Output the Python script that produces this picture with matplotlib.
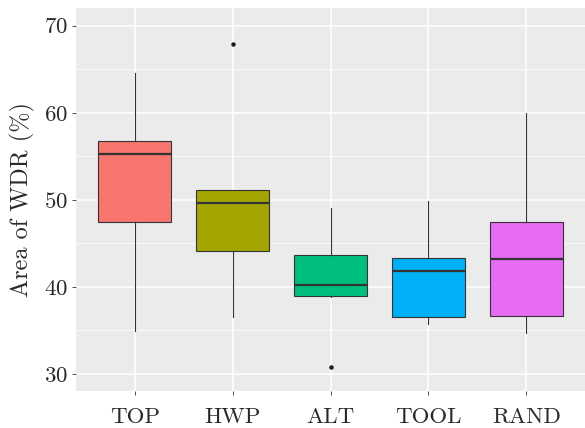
import matplotlib
matplotlib.use("Agg")
import matplotlib.pyplot as plt
from matplotlib.ticker import MultipleLocator

plt.rcParams['font.family'] = 'serif'
plt.rcParams['font.serif'] = ['cmr10']
plt.rcParams['mathtext.fontset'] = 'cm'
plt.rcParams['axes.formatter.use_mathtext'] = True

categories = ["TOP", "HWP", "ALT", "TOOL", "RAND"]
whislo = [34.9, 36.6, 38.9, 35.7, 34.7]
q1 = [47.5, 44.1, 39.0, 36.6, 36.7]
med = [55.3, 49.6, 40.2, 41.8, 43.2]
q3 = [56.8, 51.1, 43.7, 43.3, 47.4]
whishi = [64.6, 51.1, 49.1, 49.9, 60.0]
outliers = [[], [67.9], [30.8], [], []]
colors = ["#F8766D", "#A3A500", "#00BF7D", "#00B0F6", "#E76BF3"]

stats = []
for i, c in enumerate(categories):
    stats.append(dict(label=c, whislo=whislo[i], q1=q1[i], med=med[i],
                      q3=q3[i], whishi=whishi[i], fliers=outliers[i]))

fig = plt.figure(figsize=(5.85, 4.28), dpi=100)
ax = fig.add_axes([76/585, 37/428, 509/585, 383/428])
ax.set_facecolor("#EBEBEB")
for s in ax.spines.values():
    s.set_visible(False)

ax.yaxis.set_major_locator(MultipleLocator(10))
ax.yaxis.set_minor_locator(MultipleLocator(5))
ax.grid(which='major', color='white', linewidth=1.1)
ax.grid(which='minor', axis='y', color='white', linewidth=0.55)
ax.set_axisbelow(True)

bp = ax.bxp(stats, positions=range(1, 6), widths=0.75, patch_artist=True,
            showcaps=False,
            boxprops=dict(edgecolor='#333333', linewidth=0.8),
            whiskerprops=dict(color='#333333', linewidth=0.8),
            medianprops=dict(color='#333333', linewidth=1.6),
            flierprops=dict(marker='o', markersize=2.2, markerfacecolor='#1a1a1a',
                            markeredgecolor='#1a1a1a', linestyle='none'))
for patch, col in zip(bp['boxes'], colors):
    patch.set_facecolor(col)

ax.set_xlim(0.4, 5.6)
ax.set_ylim(28.05, 72.03)
ax.set_xticks(range(1, 6))
ax.set_xticklabels(categories)
ax.tick_params(axis='both', which='major', color='#333333', length=3, width=0.6,
               labelsize=16.5, labelcolor='#2a2a2a', pad=3)
ax.tick_params(axis='x', pad=9)
ax.tick_params(which='minor', length=0)
ax.set_ylabel("Area of WDR (%)", fontsize=17.5, color='#2a2a2a', labelpad=6)

fig.savefig("out.png", dpi=100)
